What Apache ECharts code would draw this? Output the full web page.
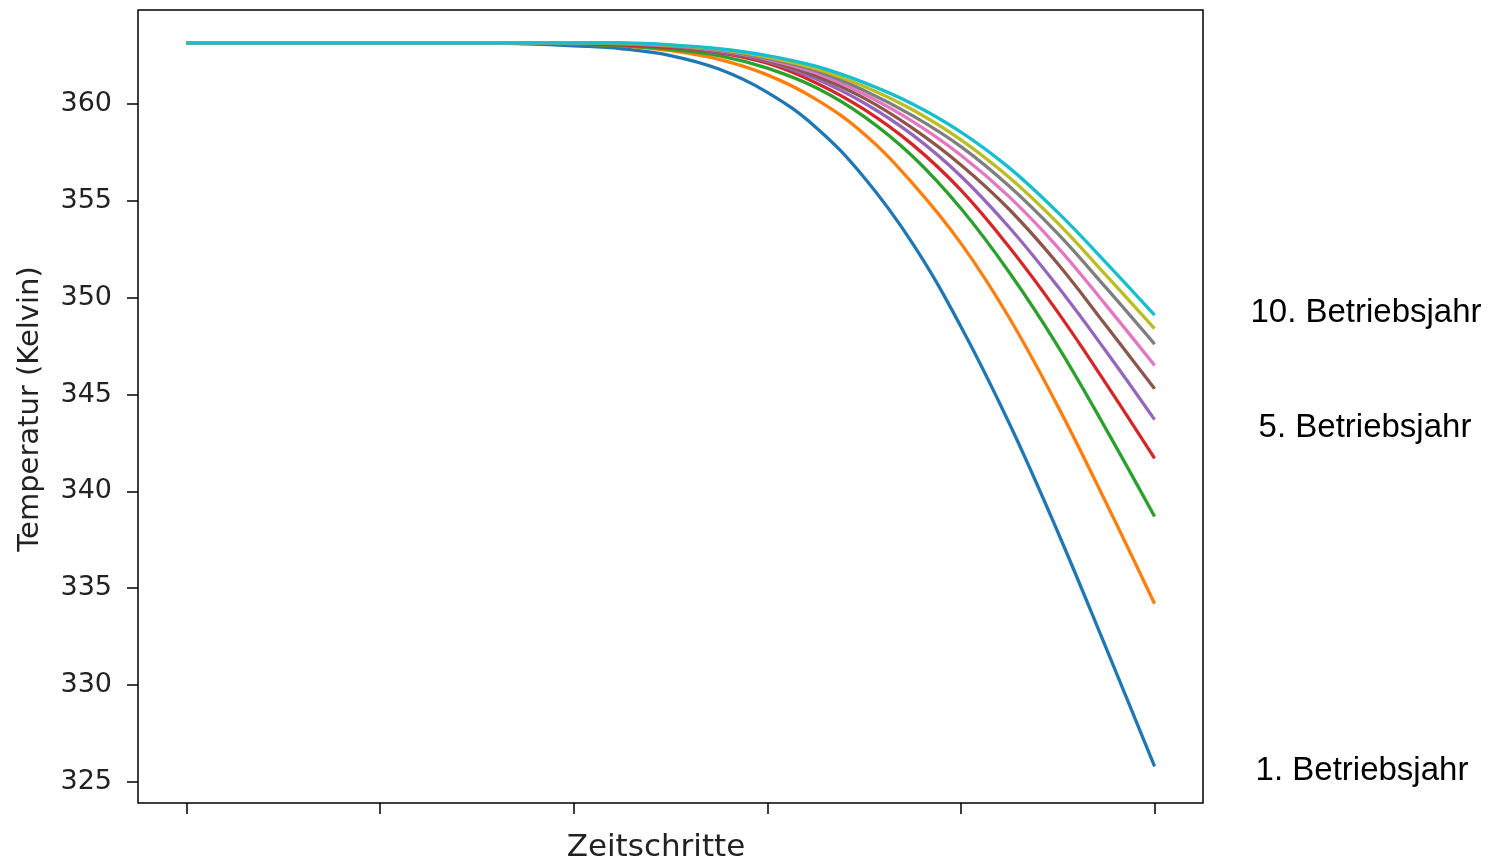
<!DOCTYPE html>
<html>
<head>
<meta charset="utf-8">
<script src="https://cdn.jsdelivr.net/npm/echarts@6/dist/echarts.min.js"></script>
<style>html,body{margin:0;padding:0;background:#fff;}#chart{width:1493px;height:864px;}</style>
</head>
<body>
<div id="chart"></div>
<script>
const timeSteps = [0,5,10,15,20,25,30,35,40,45,50,55,60,65,70,75,80,85,90,95,100];
const year1  = [363.15,363.15,363.15,363.15,363.15,363.15,363.15,363.1,363.0,362.85,362.5,361.8,360.6,358.8,356.2,352.8,348.5,343.5,337.9,331.9,325.8];
const year2  = [363.15,363.15,363.15,363.15,363.15,363.15,363.15,363.15,363.1,363.0,362.75,362.3,361.5,360.25,358.45,355.9,352.8,348.95,344.4,339.4,334.2];
const year3  = [363.15,363.15,363.15,363.15,363.15,363.15,363.15,363.15,363.1,363.0,362.82,362.5,361.85,360.85,359.35,357.3,354.6,351.3,347.5,343.2,338.7];
const year4  = [363.15,363.15,363.15,363.15,363.15,363.15,363.15,363.15,363.12,363.05,362.92,362.65,362.1,361.1,359.72,357.9,355.55,352.6,349.25,345.55,341.7];
const year5  = [363.15,363.15,363.15,363.15,363.15,363.15,363.15,363.15,363.15,363.1,362.97,362.68,362.2,361.3,360.05,358.4,356.27,353.62,350.57,347.22,343.7];
const year6  = [363.15,363.15,363.15,363.15,363.15,363.15,363.15,363.15,363.15,363.12,362.97,362.72,362.25,361.45,360.3,358.75,356.85,354.55,351.75,348.55,345.3];
const year7  = [363.15,363.15,363.15,363.15,363.15,363.15,363.15,363.15,363.15,363.12,363.0,362.75,362.3,361.6,360.5,359.1,357.35,355.2,352.6,349.6,346.5];
const year8  = [363.15,363.15,363.15,363.15,363.15,363.15,363.15,363.15,363.15,363.13,363.02,362.78,362.35,361.72,360.7,359.4,357.8,355.75,353.3,350.5,347.6];
const year9  = [363.15,363.15,363.15,363.15,363.15,363.15,363.15,363.15,363.15,363.14,363.04,362.82,362.42,361.82,360.9,359.7,358.15,356.2,353.85,351.15,348.4];
const year10 = [363.15,363.15,363.15,363.15,363.15,363.15,363.15,363.15,363.15,363.15,363.05,362.85,362.5,361.95,361.1,360.0,358.55,356.7,354.4,351.8,349.1];
const allYears = [year1,year2,year3,year4,year5,year6,year7,year8,year9,year10];
const seriesNames = ['1','2','3','4','5','6','7','8','9','10'];
const colors = ['#1f77b4','#ff7f0e','#2ca02c','#d62728','#9467bd','#8c564b','#e377c2','#7f7f7f','#bcbd22','#17becf'];
const xTicks = [0,20,40,60,80,100];
const yTicks = [325,330,335,340,345,350,355,360];
const yearLabels = ['10. Betriebsjahr','5. Betriebsjahr','1. Betriebsjahr'];

const chart = echarts.init(document.getElementById('chart'), null, {renderer:'canvas'});
const gridLeft = 138, gridTop = 10, gridW = 1065, gridH = 793;
const yMin = 323.91, yMax = 364.85;

const series = allYears.map((arr, i) => ({
  name: seriesNames[i],
  type: 'line',
  data: arr.map((v, j) => [timeSteps[j], v]),
  showSymbol: false,
  smooth: 0.4,
  lineStyle: {width: 3.3, color: colors[i]},
  itemStyle: {color: colors[i]},
  z: 2 + i,
  animation: false
}));

chart.setOption({
  animation: false,
  backgroundColor: '#fff',
  grid: {left: gridLeft, top: gridTop, width: gridW, height: gridH, show: true, borderColor: '#000', borderWidth: 1.5, backgroundColor: 'transparent'},
  xAxis: {
    type: 'value', min: -5, max: 105,
    axisLine: {show: false, onZero: false},
    splitLine: {show: false},
    axisTick: {show: true, customValues: xTicks, length: 11, lineStyle: {color: '#000', width: 1.5}},
    axisLabel: {show: false}
  },
  yAxis: {
    type: 'value', min: yMin, max: yMax,
    axisLine: {show: false, onZero: false},
    splitLine: {show: false},
    axisTick: {show: true, customValues: yTicks, length: 11, lineStyle: {color: '#000', width: 1.5}},
    axisLabel: {show: true, customValues: yTicks, margin: 26, fontFamily: 'DejaVu Sans', fontSize: 27, color: '#222'}
  },
  series: series,
  graphic: [
    {type: 'text', x: 656, y: 848, style: {text: 'Zeitschritte', fontFamily: 'DejaVu Sans', fontSize: 31, fill: '#222', align: 'center', verticalAlign: 'middle'}},
    {type: 'text', x: 30, y: 409, rotation: Math.PI/2, style: {text: 'Temperatur (Kelvin)', fontFamily: 'DejaVu Sans', fontSize: 29, fill: '#222', align: 'center', verticalAlign: 'middle'}},
    {type: 'text', x: 1366, y: 313, style: {text: yearLabels[0], fontFamily: 'Liberation Sans', fontSize: 33, fill: '#000', align: 'center', verticalAlign: 'middle'}},
    {type: 'text', x: 1365, y: 428, style: {text: yearLabels[1], fontFamily: 'Liberation Sans', fontSize: 33, fill: '#000', align: 'center', verticalAlign: 'middle'}},
    {type: 'text', x: 1362, y: 771, style: {text: yearLabels[2], fontFamily: 'Liberation Sans', fontSize: 33, fill: '#000', align: 'center', verticalAlign: 'middle'}}
  ]
});
</script>
</body>
</html>
